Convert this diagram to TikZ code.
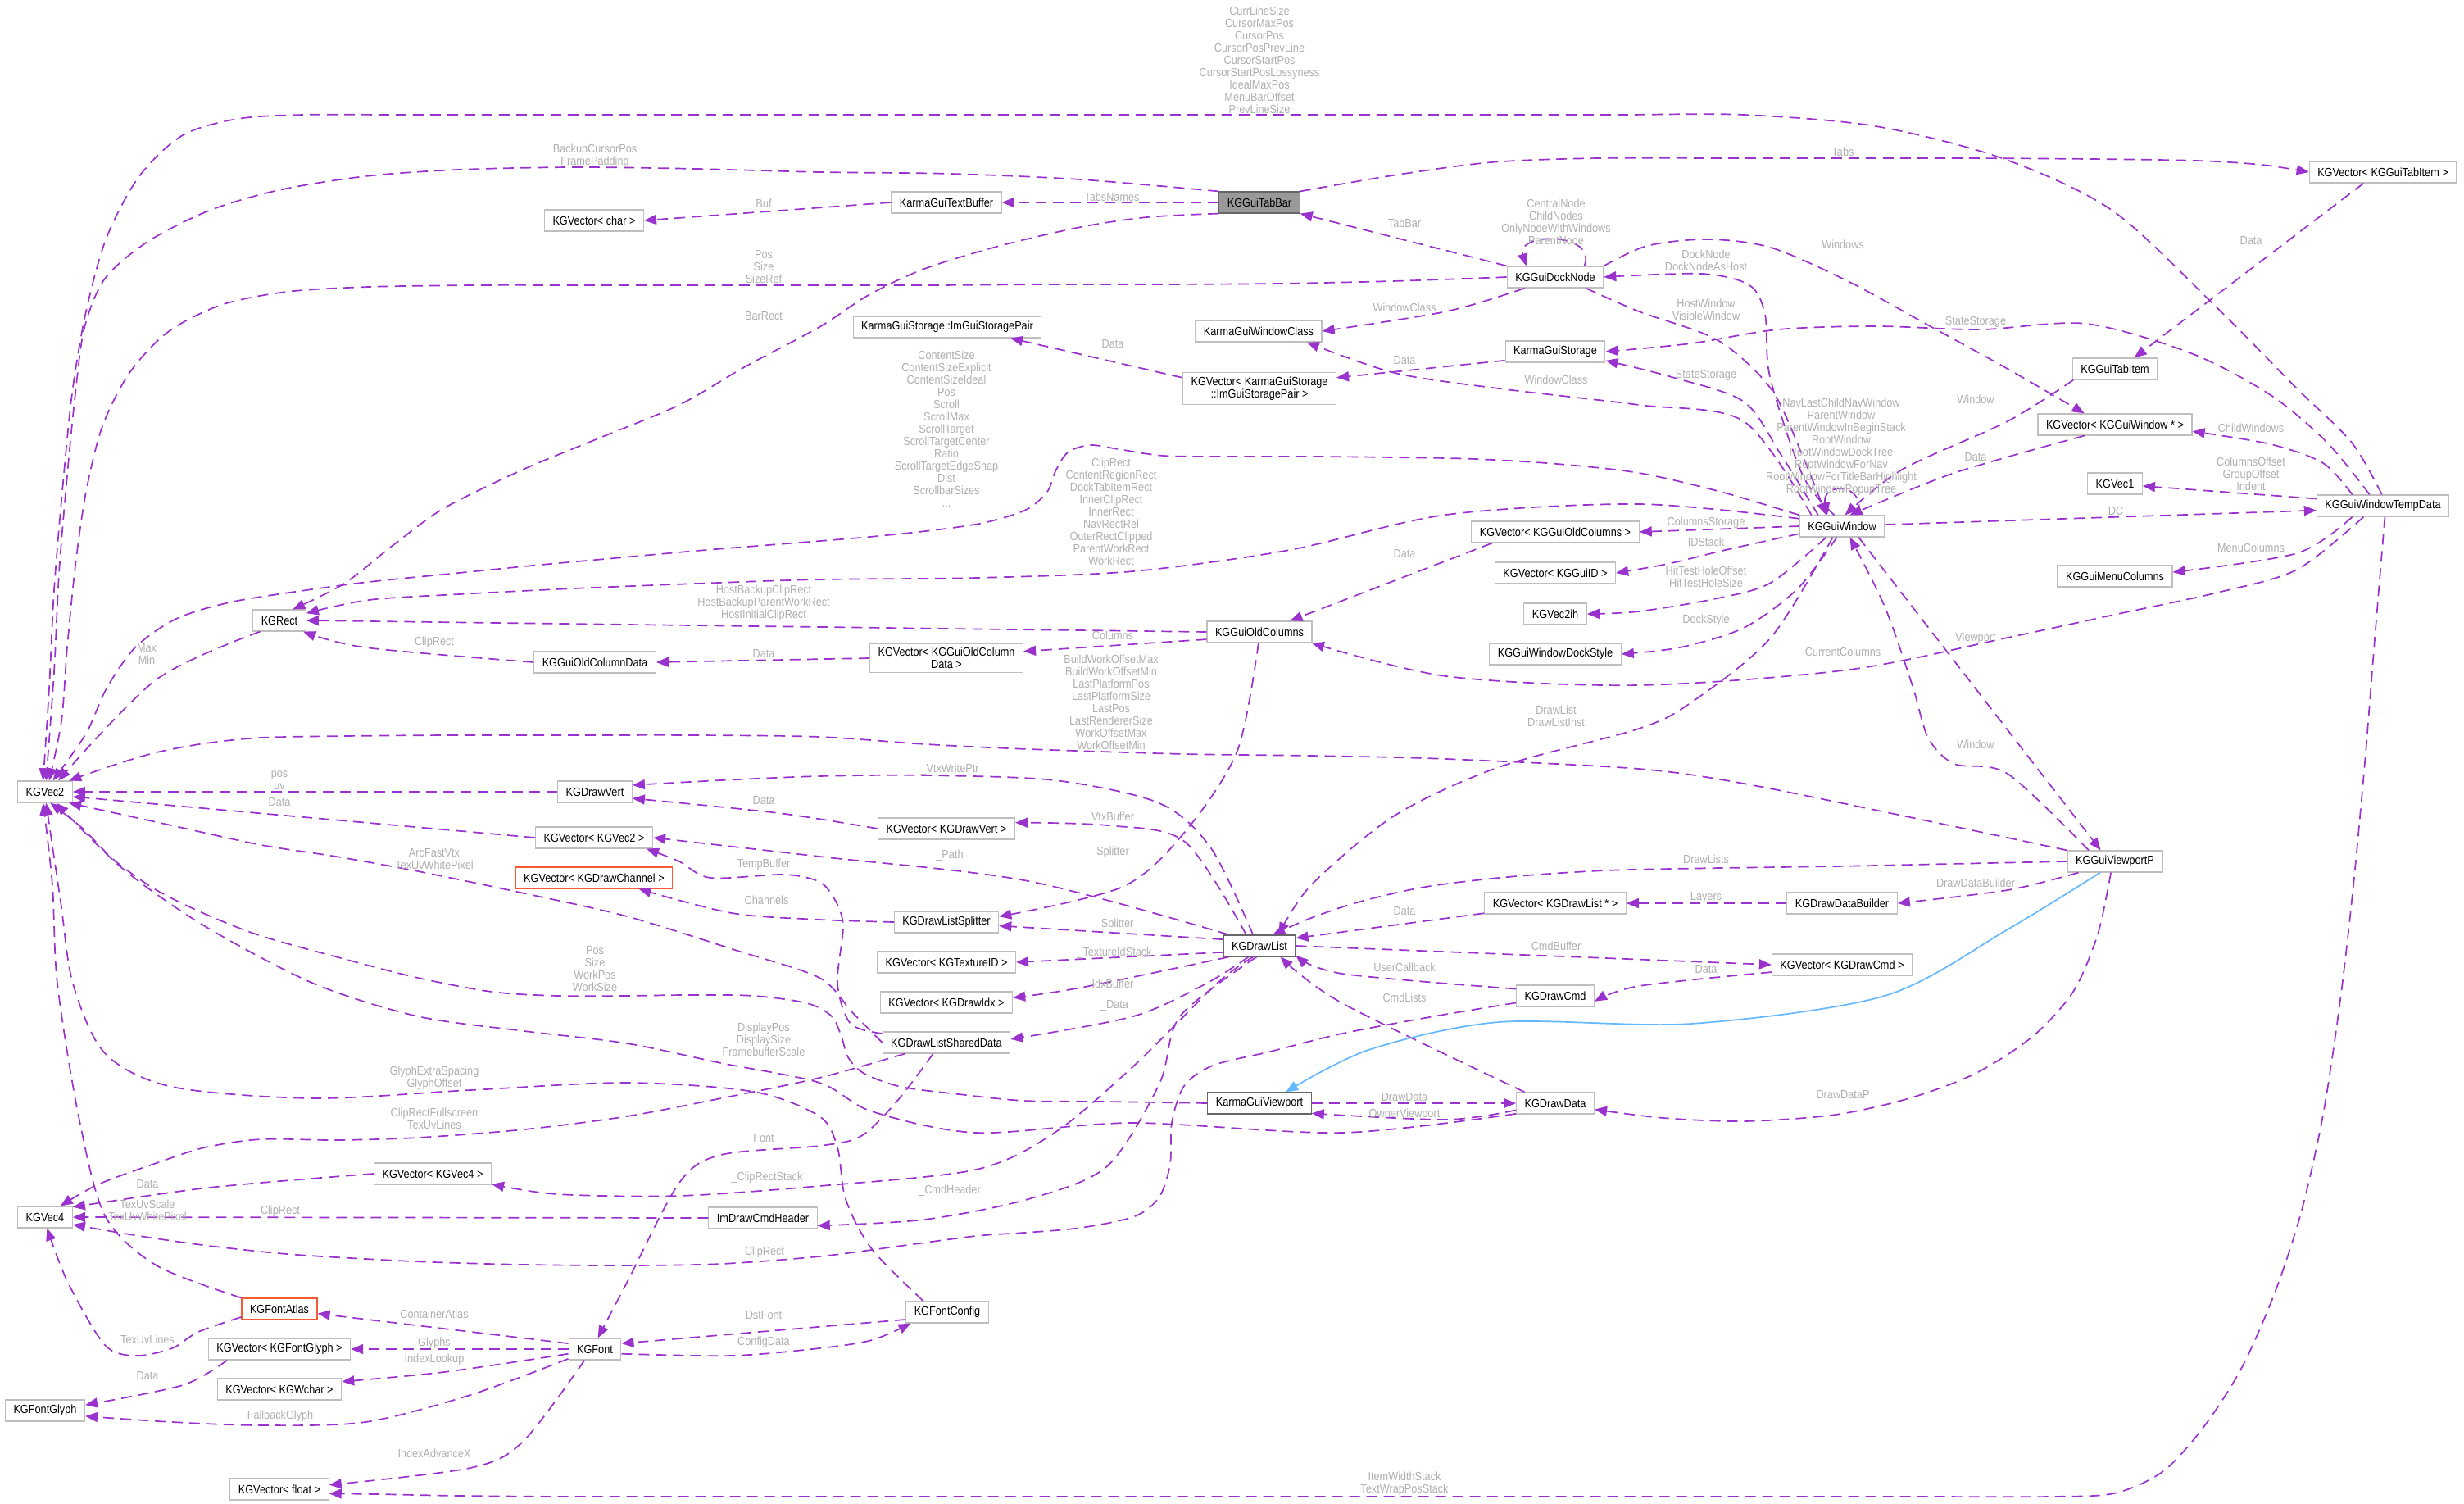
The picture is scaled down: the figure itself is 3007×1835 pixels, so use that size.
\documentclass[tikz,border=0pt]{standalone}
\usepackage{fontspec}
\setmainfont{Liberation Sans}[FakeStretch=0.87]
\usetikzlibrary{arrows.meta}
\definecolor{ec}{HTML}{9A32CD}
\definecolor{lc}{HTML}{B0B0B0}
\definecolor{nb}{HTML}{BFBFBF}
\definecolor{dk}{HTML}{666666}
\definecolor{hl}{HTML}{999999}
\definecolor{tr}{HTML}{F55A32}
\definecolor{bl}{HTML}{63B8FF}
\newcommand{\mynodefont}{\fontsize{7.3}{7.5}\selectfont}
\newcommand{\mylabelfont}{\fontsize{7.3}{7.5}\selectfont}
\tikzset{
  cls/.style={draw=nb, fill=white, line width=0.6pt, font=\mynodefont, align=center, inner xsep=5pt, inner ysep=2.5pt, minimum height=13pt},
  clsdk/.style={cls, draw=dk},
  clshl/.style={cls, draw=dk, fill=hl},
  clstr/.style={cls, draw=tr},
  lbl/.style={font=\mylabelfont, text=lc, align=center, inner sep=0pt},
  rel/.style={draw=ec, line width=0.85pt, dash pattern=on 6.5pt off 4pt, -{Triangle[length=7.5pt,width=6pt]}},
  inh/.style={draw=bl, line width=0.85pt, -{Triangle[length=7.5pt,width=6pt]}},
  sm/.style={smooth, tension=0.5}
}
\begin{document}
\begin{tikzpicture}[x=0.5pt,y=-0.5pt]
\useasboundingbox (0,0) rectangle (3007,1835);
\fill[white] (0,0) rectangle (3007,1835);
% nodes
\node[clshl] (tabbar) at (1537,247) {KGGuiTabBar};
\node[cls] (textbuf) at (1155,247) {KarmaGuiTextBuffer};
\node[cls] (vchar) at (725,269) {KGVector< char >};
\node[cls] (docknode) at (1898,338) {KGGuiDockNode};
\node[cls] (storagepair) at (1156,399) {KarmaGuiStorage::ImGuiStoragePair};
\node[cls] (winclass) at (1536,404) {KarmaGuiWindowClass};
\node[cls] (storage) at (1898,429) {KarmaGuiStorage};
\node[cls] (vpair) at (1537,474) {KGVector< KarmaGuiStorage\\::ImGuiStoragePair >};
\node[cls] (vtabitem) at (2908,210) {KGVector< KGGuiTabItem >};
\node[cls] (tabitem) at (2581,450) {KGGuiTabItem};
\node[cls] (vwin) at (2581,518) {KGVector< KGGuiWindow * >};
\node[cls] (vec1) at (2581,590) {KGVec1};
\node[cls] (tempdata) at (2908,617) {KGGuiWindowTempData};
\node[cls] (window) at (2248,642) {KGGuiWindow};
\node[cls] (menucols) at (2581,703) {KGGuiMenuColumns};
\node[cls] (viewportp) at (2581,1051) {KGGuiViewportP};
\node[cls] (ddbuilder) at (2248,1102) {KGDrawDataBuilder};
\node[cls] (vdrawcmd) at (2248,1177) {KGVector< KGDrawCmd >};
\node[cls] (voldcols) at (1898,649) {KGVector< KGGuiOldColumns >};
\node[cls] (vguiid) at (1898,699) {KGVector< KGGuiID >};
\node[cls] (vec2ih) at (1898,749) {KGVec2ih};
\node[cls] (dockstyle) at (1898,798) {KGGuiWindowDockStyle};
\node[cls] (oldcols) at (1537,771) {KGGuiOldColumns};
\node[cls] (voldcoldata) at (1155,803) {KGVector< KGGuiOldColumn\\Data >};
\node[cls] (vdrawvert) at (1155,1011) {KGVector< KGDrawVert >};
\node[cls] (splitter) at (1155,1125) {KGDrawListSplitter};
\node[cls] (vtexid) at (1155,1174) {KGVector< KGTextureID >};
\node[clsdk] (drawlist) at (1537,1154) {KGDrawList};
\node[cls] (vdrawlistp) at (1898,1102) {KGVector< KGDrawList * >};
\node[cls] (drawcmd) at (1898,1215) {KGDrawCmd};
\node[cls] (vdrawidx) at (1155,1223) {KGVector< KGDrawIdx >};
\node[cls] (shared) at (1155,1272) {KGDrawListSharedData};
\node[clsdk] (viewport) at (1537,1346) {KarmaGuiViewport};
\node[cls] (drawdata) at (1898,1346) {KGDrawData};
\node[cls] (fontconfig) at (1156,1601) {KGFontConfig};
\node[cls] (vec4) at (55,1485) {KGVec4};
\node[cls] (vvec4) at (528,1432) {KGVector< KGVec4 >};
\node[cls] (cmdheader) at (931,1486) {ImDrawCmdHeader};
\node[clstr] (fontatlas) at (341,1597) {KGFontAtlas};
\node[cls] (vfontglyph) at (341,1646) {KGVector< KGFontGlyph >};
\node[cls] (font) at (726,1646) {KGFont};
\node[cls] (vwchar) at (341,1695) {KGVector< KGWchar >};
\node[cls] (fontglyph) at (55,1721) {KGFontGlyph};
\node[cls] (vfloat) at (341,1817) {KGVector< float >};
\node[cls] (rect) at (341,757) {KGRect};
\node[cls] (oldcoldata) at (726,808) {KGGuiOldColumnData};
\node[cls] (vec2) at (55,966) {KGVec2};
\node[cls] (drawvert) at (726,966) {KGDrawVert};
\node[cls] (vvec2) at (725,1022) {KGVector< KGVec2 >};
\node[clstr] (vdrawchan) at (725,1071) {KGVector< KGDrawChannel >};
% edges
\draw[rel] plot[sm] coordinates {(tabbar.north west) (1319,219) (1160,212) (1000,210) (850,206) (701,204) (560,207) (446,215) (340,232) (255,257) (180,295) (128,340) (103,400) (92,480) (82,580) (72,700) (66,820) (vec2.85)};
\draw[rel] plot[sm] coordinates {(tempdata.95) (2870,540) (2803,474) (2706,376) (2578,257) (2443,193) (2289,154) (2128,140) (1980,140) (1830,140) (1680,140) (1530,140) (1380,140) (1230,140) (1080,140) (930,140) (780,140) (630,140) (480,140) (370,140) (290,145) (223,165) (170,215) (130,290) (105,380) (88,480) (76,600) (66,720) (60,840) (vec2.100)};
\draw[rel] (tabbar) -- (textbuf);
\draw[rel] (textbuf.west) -- (vchar.east);
\draw[rel] plot[sm] coordinates {(docknode.west) (1700,343) (1560,346) (1420,347) (1280,347) (1140,348) (1000,348) (860,348) (720,348) (580,348) (450,350) (350,356) (270,372) (205,405) (158,455) (125,520) (105,600) (92,690) (82,790) (75,880) (vec2.70)};
\draw[rel] plot[sm] coordinates {(tabbar.south west) (1400,265) (1319,277) (1220,300) (1128,328) (1060,360) (1000,399) (910,447) (829,494) (730,535) (638,573) (542,620) (480,665) (420,712) (rect.40)};
\draw[rel] (docknode.north west) -- (tabbar.south east);
\draw[rel] (docknode.21) .. controls (1950,283) and (1850,283) .. (docknode.159);
\draw[rel] plot[sm] coordinates {(tabbar.north east) (1700,214) (1820,198) (1950,193) (2100,193) (2250,193) (2400,193) (2550,194) (2680,196) (2760,201) (vtabitem.west)};
\draw[rel] plot[sm] coordinates {(docknode.200) (1765,380) (winclass.east)};
\draw[rel] plot[sm] coordinates {(docknode.north east) (2010,300) (2083,292) (2161,302) (2257,344) (2350,395) (2450,450) (vwin.160)};
\draw[rel] plot[sm] coordinates {(window.125) (2200,580) (2160,460) (2154,384) (2135,348) (2077,334) (docknode.east)};
\draw[rel] plot[sm] coordinates {(docknode.-20) (2000,380) (2096,415) (2161,474) (2199,554) (window.145)};
\draw[rel] plot[sm] coordinates {(window.155) (2173,554) (2128,490) (2040,460) (storage.-10)};
\draw[rel] plot[sm] coordinates {(tempdata.140) (2840,540) (2771,482) (2674,431) (2546,395) (2417,402) (2290,398) (2170,402) (2064,419) (storage.east)};
\draw[rel] (storage.190) -- (vpair.8);
\draw[rel] (vpair.172) -- (storagepair.-10);
\draw[rel] plot[sm] coordinates {(window.160) (2128,514) (2000,494) (1829,474) (1702,455) (winclass.-13)};
\draw[rel] plot[sm] coordinates {(tabitem.-165) (2450,514) (2321,573) (window.75)};
\draw[rel] plot[sm] coordinates {(vwin.-160) (2385,577) (window.55)};
\draw[rel] (vtabitem.-150) -- (tabitem.30);
\draw[rel] (window.35) .. controls (2278,588) and (2222,588) .. (window.143);
\draw[rel] plot[sm] coordinates {(tempdata.160) (2835,565) (2771,542) (vwin.-5)};
\draw[rel] (tempdata.174) -- (vec1.-5);
\draw[rel] (window.2) -- (tempdata.184);
\draw[rel] plot[sm] coordinates {(tempdata.-160) (2803,675) (menucols.4)};
\draw[rel] plot[sm] coordinates {(tempdata.-150) (2803,695) (2706,723) (2580,750) (2450,778) (2257,817) (2000,836) (1765,825) (oldcols.-12)};
\draw[rel] plot[sm] coordinates {(tempdata.-80) (2898,780) (2886,930) (2872,1080) (2856,1220) (2835,1360) (2808,1480) (2775,1580) (2735,1670) (2690,1740) (2640,1795) (2580,1822) (2500,1826) (2350,1826) (2200,1826) (2050,1826) (1900,1826) (1750,1826) (1600,1826) (1450,1826) (1300,1826) (1150,1826) (1000,1826) (850,1826) (700,1826) (560,1825) (460,1823) (vfloat.-5)};
\draw[rel] (window.west) -- (voldcols.east);
\draw[rel] plot[sm] coordinates {(window.190) (2110,670) (2035,688) (vguiid.east)};
\draw[rel] plot[sm] coordinates {(window.-145) (2161,711) (2096,730) (2000,746) (vec2ih.east)};
\draw[rel] plot[sm] coordinates {(window.-115) (2193,719) (2128,766) (2050,790) (dockstyle.east)};
\draw[rel] (voldcols.-170) -- (oldcols.20);
\draw[rel] plot[sm] coordinates {(window.north west) (2100,600) (2000,577) (1900,566) (1800,560) (1700,558) (1600,557) (1500,557) (1420,556) (1365,548) (1330,543) (1303,552) (1288,575) (1278,600) (1252,622) (1200,638) (1130,648) (1050,656) (950,664) (850,672) (750,681) (650,690) (550,700) (450,710) (360,722) (280,735) (215,755) (165,790) (130,840) (105,895) (vec2.55)};
\draw[rel] plot[sm] coordinates {(window.170) (2000,615) (1765,628) (1574,671) (1383,697) (1191,705) (1000,707) (850,712) (700,718) (560,725) (450,732) (rect.15)};
\draw[rel] (oldcols.west) -- (rect.east);
\draw[rel] (oldcols.188) -- (voldcoldata.5);
\draw[rel] (voldcoldata.west) -- (oldcoldata.east);
\draw[rel] plot[sm] coordinates {(oldcoldata.west) (446,790) (rect.-25)};
\draw[rel] plot[sm] coordinates {(rect.-150) (191,829) (vec2.40)};
\draw[rel] plot[sm] coordinates {(viewportp.north west) (2321,995) (2128,956) (2000,938) (1765,926) (1600,922) (1446,920) (1255,914) (1130,908) (1000,899) (850,897) (700,897) (550,897) (420,898) (319,900) (250,907) (191,918) (140,933) (vec2.25)};
\draw[rel] (drawvert.west) -- (vec2.east);
\draw[rel] plot[sm] coordinates {(vdrawvert.west) (950,992) (drawvert.-10)};
\draw[rel] (vvec2.west) -- (vec2.-10);
\draw[rel] plot[sm] coordinates {(drawlist.120) (1478,1035) (1415,980) (1287,952) (1128,946) (1000,947) (880,952) (drawvert.10)};
\draw[rel] plot[sm] coordinates {(drawlist.140) (1446,1027) (1351,1007) (vdrawvert.5)};
\draw[rel] plot[sm] coordinates {(drawlist.160) (1255,1075) (1000,1045) (vvec2.east)};
\draw[rel] plot[sm] coordinates {(shared.172) (1038,1249) (1022,1200) (1029,1130) (1019,1098) (1000,1076) (957,1067) (867,1071) (829,1051) (vvec2.-12)};
\draw[rel] plot[sm] coordinates {(shared.west) (1040,1235) (1000,1193) (900,1160) (765,1118) (640,1090) (510,1063) (410,1045) (319,1031) (200,1005) (vec2.-25)};
\draw[rel] plot[sm] coordinates {(splitter.west) (1000,1122) (893,1114) (vdrawchan.-14)};
\draw[rel] plot[sm] coordinates {(oldcols.-95) (1510,916) (1446,1015) (1370,1082) (splitter.6)};
\draw[rel] (drawlist.170) -- (splitter.-4);
\draw[rel] (drawlist.190) -- (vtexid.east);
\draw[rel] plot[sm] coordinates {(drawlist.-160) (1319,1205) (vdrawidx.4)};
\draw[rel] plot[sm] coordinates {(drawlist.-135) (1472,1200) (1383,1240) (shared.3)};
\draw[rel] plot[sm] coordinates {(window.-130) (2161,778) (2064,857) (2000,889) (1829,936) (1702,995) (1600,1080) (drawlist.30)};
\draw[rel] plot[sm] coordinates {(viewportp.west) (2380,1054) (2240,1057) (2100,1059) (1960,1062) (1840,1070) (1740,1082) (1660,1100) (1600,1120) (drawlist.40)};
\draw[rel] (vdrawlistp.188) -- (drawlist.12);
\draw[rel] (ddbuilder.west) -- (vdrawlistp.east);
\draw[rel] plot[sm] coordinates {(viewportp.-163) (2450,1086) (ddbuilder.east)};
\draw[rel] (drawlist.east) -- (vdrawcmd.west);
\draw[rel] plot[sm] coordinates {(vdrawcmd.186) (2000,1203) (drawcmd.-8)};
\draw[rel] plot[sm] coordinates {(drawcmd.170) (1638,1188) (drawlist.-15)};
\draw[rel] plot[sm] coordinates {(drawdata.160) (1638,1224) (drawlist.-28)};
\draw[rel] (window.-34) -- (viewportp.142);
\draw[rel] plot[sm] coordinates {(viewportp.157) (2450,944) (2385,932) (2353,900) (2334,837) (2300,740) (window.-55)};
\draw[inh] plot[sm] coordinates {(viewportp.-143) (2450,1134) (2300,1215) (2064,1249) (1829,1247) (1670,1281) (viewport.23)};
\draw[rel] plot[sm] coordinates {(viewportp.-110) (2560,1140) (2530,1210) (2480,1265) (2410,1310) (2330,1340) (2240,1360) (2130,1368) (2030,1364) (drawdata.-9)};
\draw[rel] (viewport.east) -- (drawdata.west);
\draw[rel] plot[sm] coordinates {(drawdata.190) (1765,1366) (viewport.-11)};
\draw[rel] plot[sm] coordinates {(viewport.west) (1350,1344) (1250,1343) (1170,1335) (1100,1326) (1055,1310) (1035,1290) (1027,1265) (1015,1240) (985,1224) (920,1215) (840,1214) (760,1215) (680,1215) (600,1210) (510,1193) (420,1170) (319,1142) (250,1115) (191,1086) (140,1050) (100,1010) (vec2.-65)};
\draw[rel] plot[sm] coordinates {(drawdata.195) (1638,1382) (1383,1370) (1191,1382) (1064,1356) (1000,1321) (880,1297) (765,1273) (640,1258) (510,1240) (383,1200) (250,1130) (150,1060) (vec2.-45)};
\draw[rel] plot[sm] coordinates {(fontconfig.155) (1064,1524) (1032,1463) (1022,1400) (1000,1362) (920,1332) (765,1321) (574,1330) (383,1340) (210,1326) (128,1285) (89,1200) (74,1100) (vec2.-85)};
\draw[rel] plot[sm] coordinates {(shared.-165) (1000,1315) (880,1340) (765,1362) (640,1378) (510,1388) (410,1391) (319,1390) (250,1400) (191,1419) (120,1445) (vec4.36)};
\draw[rel] plot[sm] coordinates {(vvec4.west) (255,1449) (vec4.20)};
\draw[rel] plot[sm] coordinates {(fontatlas.north west) (191,1544) (128,1483) (96,1362) (70,1200) (64,1080) (vec2.-100)};
\draw[rel] (cmdheader.west) -- (vec4.east);
\draw[rel] plot[sm] coordinates {(drawcmd.190) (1750,1240) (1638,1261) (1550,1283) (1480,1300) (1445,1325) (1430,1370) (1428,1420) (1415,1460) (1385,1484) (1319,1498) (1250,1504) (1191,1508) (1100,1520) (1000,1533) (880,1542) (765,1544) (640,1543) (530,1540) (446,1536) (350,1530) (255,1520) (170,1508) (vec4.-15)};
\draw[rel] plot[sm] coordinates {(drawlist.-120) (1485,1200) (1383,1301) (1287,1382) (1191,1427) (1000,1447) (829,1459) (680,1457) (vvec4.-10)};
\draw[rel] plot[sm] coordinates {(drawlist.-105) (1440,1240) (1415,1322) (1351,1423) (1255,1463) (1128,1488) (cmdheader.-8)};
\draw[rel] plot[sm] coordinates {(shared.-140) (1096,1342) (1051,1386) (1000,1398) (880,1409) (829,1443) (765,1565) (font.75)};
\draw[rel] plot[sm] coordinates {(fontatlas.192) (242,1625) (210,1645) (166,1654) (128,1641) (83,1565) (vec4.-80)};
\draw[rel] (font.168) -- (fontatlas.-7);
\draw[rel] (font.west) -- (vfontglyph.east);
\draw[rel] plot[sm] coordinates {(font.190) (542,1674) (vwchar.7)};
\draw[rel] plot[sm] coordinates {(vfontglyph.-168) (223,1690) (fontglyph.8)};
\draw[rel] plot[sm] coordinates {(font.-160) (574,1702) (446,1735) (319,1739) (210,1735) (fontglyph.-8)};
\draw[rel] plot[sm] coordinates {(font.-133) (638,1759) (574,1791) (vfloat.5)};
\draw[rel] (fontconfig.190) -- (font.12);
\draw[rel] plot[sm] coordinates {(font.-10) (893,1654) (1000,1645) (1064,1635) (fontconfig.-163)};
% labels
\node[lbl] (l1) at (726,190) {BackupCursorPos\\FramePadding};
\node[lbl] (l2) at (1537,73) {CurrLineSize\\CursorMaxPos\\CursorPos\\CursorPosPrevLine\\CursorStartPos\\CursorStartPosLossyness\\IdealMaxPos\\MenuBarOffset\\PrevLineSize};
\node[lbl] (l3) at (1357,240) {TabsNames};
\node[lbl] (l4) at (932,248) {Buf};
\node[lbl] (l5) at (932,326) {Pos\\Size\\SizeRef};
\node[lbl] (l6) at (932,386) {BarRect};
\node[lbl] (l7) at (1714,272) {TabBar};
\node[lbl] (l8) at (1899,271) {CentralNode\\ChildNodes\\OnlyNodeWithWindows\\ParentNode};
\node[lbl] (l9) at (2249,185) {Tabs};
\node[lbl] (l10) at (1714,375) {WindowClass};
\node[lbl] (l11) at (2249,298) {Windows};
\node[lbl] (l12) at (2082,318) {DockNode\\DockNodeAsHost};
\node[lbl] (l13) at (2082,378) {HostWindow\\VisibleWindow};
\node[lbl] (l14) at (2082,458) {StateStorage};
\node[lbl] (l15) at (2411,393) {StateStorage};
\node[lbl] (l16) at (1714,440) {Data};
\node[lbl] (l17) at (1358,420) {Data};
\node[lbl] (l18) at (1899,463) {WindowClass};
\node[lbl] (l19) at (2411,487) {Window};
\node[lbl] (l20) at (2411,558) {Data};
\node[lbl] (l21) at (2747,294) {Data};
\node[lbl] (l22) at (2247,545) {NavLastChildNavWindow\\ParentWindow\\ParentWindowInBeginStack\\RootWindow\\RootWindowDockTree\\RootWindowForNav\\RootWindowForTitleBarHighlight\\RootWindowPopupTree};
\node[lbl] (l23) at (2747,522) {ChildWindows};
\node[lbl] (l24) at (2747,578) {ColumnsOffset\\GroupOffset\\Indent};
\node[lbl] (l25) at (2582,623) {DC};
\node[lbl] (l26) at (2747,668) {MenuColumns};
\node[lbl] (l27) at (2249,795) {CurrentColumns};
\node[lbl] (l28) at (1714,1810) {ItemWidthStack\\TextWrapPosStack};
\node[lbl] (l29) at (2082,638) {ColumnsStorage};
\node[lbl] (l30) at (2082,661) {IDStack};
\node[lbl] (l31) at (2082,704) {HitTestHoleOffset\\HitTestHoleSize};
\node[lbl] (l32) at (2082,757) {DockStyle};
\node[lbl] (l33) at (1714,676) {Data};
\node[lbl] (l34) at (1155,523) {ContentSize\\ContentSizeExplicit\\ContentSizeIdeal\\Pos\\Scroll\\ScrollMax\\ScrollTarget\\ScrollTargetCenter\\Ratio\\ScrollTargetEdgeSnap\\Dist\\ScrollbarSizes\\...};
\node[lbl] (l35) at (1356,624) {ClipRect\\ContentRegionRect\\DockTabItemRect\\InnerClipRect\\InnerRect\\NavRectRel\\OuterRectClipped\\ParentWorkRect\\WorkRect};
\node[lbl] (l36) at (932,736) {HostBackupClipRect\\HostBackupParentWorkRect\\HostInitialClipRect};
\node[lbl] (l37) at (1358,775) {Columns};
\node[lbl] (l38) at (932,798) {Data};
\node[lbl] (l39) at (530,784) {ClipRect};
\node[lbl] (l40) at (179,798) {Max\\Min};
\node[lbl] (l41) at (1356,857) {BuildWorkOffsetMax\\BuildWorkOffsetMin\\LastPlatformPos\\LastPlatformSize\\LastPos\\LastRendererSize\\WorkOffsetMax\\WorkOffsetMin};
\node[lbl] (l42) at (341,952) {pos\\uv};
\node[lbl] (l43) at (932,977) {Data};
\node[lbl] (l44) at (341,979) {Data};
\node[lbl] (l45) at (1159,939) {\_VtxWritePtr};
\node[lbl] (l46) at (1358,996) {VtxBuffer};
\node[lbl] (l47) at (1159,1044) {\_Path};
\node[lbl] (l48) at (932,1055) {TempBuffer};
\node[lbl] (l49) at (530,1048) {ArcFastVtx\\TexUvWhitePixel};
\node[lbl] (l50) at (932,1100) {\_Channels};
\node[lbl] (l51) at (1358,1040) {Splitter};
\node[lbl] (l52) at (1360,1128) {\_Splitter};
\node[lbl] (l53) at (1360,1163) {\_TextureIdStack};
\node[lbl] (l54) at (1358,1200) {IdxBuffer};
\node[lbl] (l55) at (1360,1227) {\_Data};
\node[lbl] (l56) at (1899,874) {DrawList\\DrawListInst};
\node[lbl] (l57) at (2082,1048) {DrawLists};
\node[lbl] (l58) at (1714,1112) {Data};
\node[lbl] (l59) at (2082,1095) {Layers};
\node[lbl] (l60) at (2411,1077) {DrawDataBuilder};
\node[lbl] (l61) at (1899,1154) {CmdBuffer};
\node[lbl] (l62) at (2082,1183) {Data};
\node[lbl] (l63) at (1714,1180) {UserCallback};
\node[lbl] (l64) at (1714,1217) {CmdLists};
\node[lbl] (l65) at (2411,779) {Viewport};
\node[lbl] (l66) at (2411,908) {Window};
\node[lbl] (l68) at (2249,1336) {DrawDataP};
\node[lbl] (l69) at (1714,1339) {DrawData};
\node[lbl] (l70) at (1714,1360) {OwnerViewport};
\node[lbl] (l71) at (726,1182) {Pos\\Size\\WorkPos\\WorkSize};
\node[lbl] (l72) at (932,1268) {DisplayPos\\DisplaySize\\FramebufferScale};
\node[lbl] (l73) at (530,1315) {GlyphExtraSpacing\\GlyphOffset};
\node[lbl] (l74) at (530,1365) {ClipRectFullscreen\\TexUvLines};
\node[lbl] (l75) at (180,1445) {Data};
\node[lbl] (l76) at (180,1477) {TexUvScale\\TexUvWhitePixel};
\node[lbl] (l77) at (342,1478) {ClipRect};
\node[lbl] (l78) at (933,1528) {ClipRect};
\node[lbl] (l79) at (936,1437) {\_ClipRectStack};
\node[lbl] (l80) at (1159,1453) {\_CmdHeader};
\node[lbl] (l81) at (932,1389) {Font};
\node[lbl] (l82) at (180,1634) {TexUvLines};
\node[lbl] (l83) at (530,1603) {ContainerAtlas};
\node[lbl] (l84) at (530,1639) {Glyphs};
\node[lbl] (l85) at (530,1659) {IndexLookup};
\node[lbl] (l86) at (180,1679) {Data};
\node[lbl] (l87) at (342,1728) {FallbackGlyph};
\node[lbl] (l88) at (530,1773) {IndexAdvanceX};
\node[lbl] (l89) at (932,1605) {DstFont};
\node[lbl] (l90) at (932,1638) {ConfigData};
\end{tikzpicture}
\end{document}
